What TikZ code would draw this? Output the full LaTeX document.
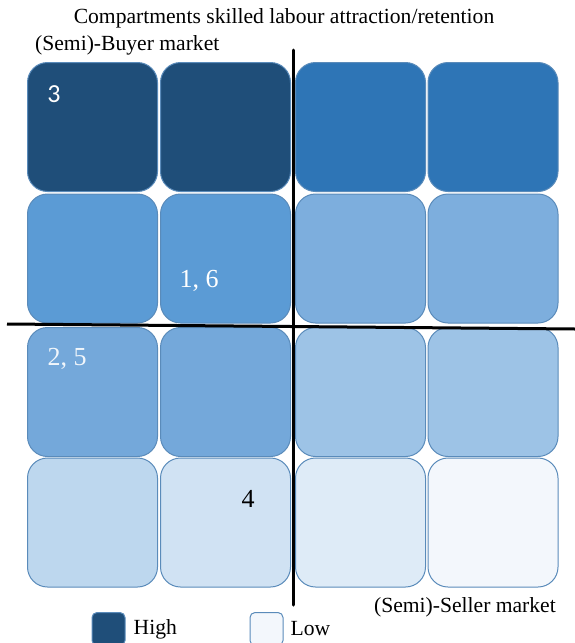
\documentclass[tikz,border=0pt]{standalone}
\usepackage{fontspec}
\setmainfont{Liberation Serif}
\newfontfamily\digitfont{Carlito}
\usetikzlibrary{positioning}
\definecolor{shadeA}{HTML}{1F4E79}
\definecolor{shadeB}{HTML}{2E75B6}
\definecolor{shadeC}{HTML}{5B9BD5}
\definecolor{shadeD}{HTML}{7DAEDD}
\definecolor{shadeE}{HTML}{74A8DA}
\definecolor{shadeF}{HTML}{9DC3E6}
\definecolor{shadeG}{HTML}{BDD7EE}
\definecolor{shadeH}{HTML}{D0E2F3}
\definecolor{shadeI}{HTML}{DEEBF7}
\definecolor{shadeJ}{HTML}{F3F7FC}
\definecolor{cellline}{HTML}{5A8BBA}

\begin{document}
\begin{tikzpicture}[x=1pt,y=-1pt,line cap=round,
  cell/.style={draw=cellline,line width=1pt,rounded corners=20pt,minimum width=130pt,minimum height=129pt,inner sep=0pt},
  legbox/.style={draw=cellline,line width=1pt,rounded corners=5pt,minimum width=33pt,minimum height=33pt,inner sep=0pt},
  axis/.style={line width=3pt,black},
  lbl/.style={font=\fontsize{21.6}{24}\selectfont,inner sep=0pt},
  num/.style={font=\fontsize{26}{28}\selectfont,inner sep=0pt}]
\useasboundingbox (0,0) rectangle (575,643);
% the 4x4 compartments
\foreach \y/\ca/\cb/\cc/\cd [count=\r] in {127/shadeA/shadeA/shadeB/shadeB,258.5/shadeC/shadeC/shadeD/shadeD,392/shadeE/shadeE/shadeF/shadeF,522.5/shadeG/shadeH/shadeI/shadeJ}{
  \node[cell,fill=\ca] (c\r a) at (92.5,\y) {};
  \node[cell,fill=\cb] (c\r b) at (225.5,\y) {};
  \node[cell,fill=\cc] (c\r c) at (360.5,\y) {};
  \node[cell,fill=\cd] (c\r d) at (493,\y) {};
}
\node[num,white,font=\fontsize{26}{28}\digitfont] (n3) at (54,94) {3};
\node[num,white] (n16) at (199,281) {1, 6};
\node[num,white!90!shadeE] (n25) at (67,359) {2, 5};
\node[num,black] (n4) at (248,499) {4};
% axes
\coordinate (vtop) at (293,50);
\coordinate (vbot) at (293,605);
\coordinate (hleft) at (7,324);
\coordinate (hright) at (575,329);
\draw[axis] (vtop) -- (vbot);
\draw[axis,line cap=butt] (hleft) -- (hright);
% texts
\node[lbl] (title) at (284,18) {Compartments skilled labour attraction/retention};
\node[lbl,anchor=west] (buyer) at (35,45) {(Semi)-Buyer market};
\node[lbl,anchor=east] (seller) at (556,607) {(Semi)-Seller market};
% legend
\node[legbox,fill=shadeA] (high) at (108.5,629) {};
\node[lbl,right=8pt of high] (hightxt) {High};
\node[legbox,fill=shadeJ] (low) at (266.5,629) {};
\node[lbl,right=7pt of low] (lowtxt) {Low};
\end{tikzpicture}
\end{document}
